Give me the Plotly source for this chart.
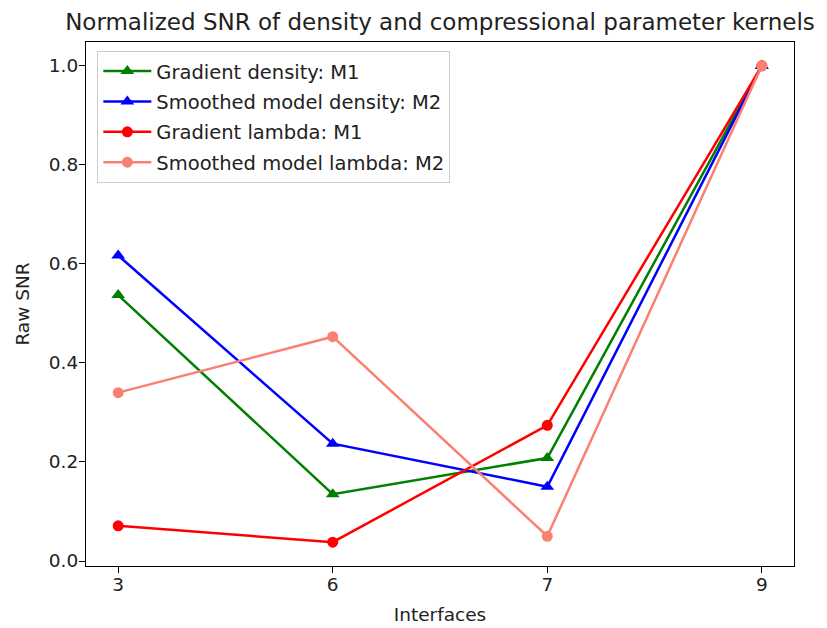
import plotly.graph_objects as go

# interface counts (categorical x positions)
interfaces = ["3", "6", "7", "9"]

# normalized SNR values
grad_density = [0.537, 0.135, 0.208, 1.0]
smooth_density = [0.617, 0.237, 0.150, 1.0]
grad_lambda = [0.071, 0.038, 0.274, 1.0]
smooth_lambda = [0.340, 0.453, 0.050, 1.0]

series = [
    ("Gradient density: M1", grad_density, "#008000", "triangle-up"),
    ("Smoothed model density: M2", smooth_density, "#0000ff", "triangle-up"),
    ("Gradient lambda: M1", grad_lambda, "#ff0000", "circle"),
    ("Smoothed model lambda: M2", smooth_lambda, "#fa8072", "circle"),
]

fig = go.Figure()
for i, (name, vals, col, sym) in enumerate(series):
    fig.add_trace(go.Scatter(
        x=interfaces, y=vals, name=name, mode="lines+markers",
        line=dict(color=col, width=2.5),
        marker=dict(color=col, symbol=sym, size=11 if sym == "circle" else 12),
        legendgroup="g%d" % i,
    ))

font = "DejaVu Sans, Liberation Sans, sans-serif"
axis_style = dict(
    showline=True, mirror=True, linecolor="black", linewidth=1.2,
    ticks="outside", ticklen=6, tickcolor="black", showgrid=False,
    zeroline=False, tickfont=dict(size=18.5, color="#222"), automargin=False,
)

fig.update_xaxes(type="category", categoryorder="array", categoryarray=interfaces,
                 range=[-0.15, 3.15], ticklabelstandoff=-4,
                 title=dict(text="Interfaces", font=dict(size=18.5), standoff=13),
                 **axis_style)
fig.update_yaxes(range=[-0.0101, 1.0481], tickvals=[0, 0.2, 0.4, 0.6, 0.8, 1.0],
                 tickformat=".1f", ticklabelstandoff=-3,
                 title=dict(text="Raw SNR", font=dict(size=18.5), standoff=14),
                 **axis_style)

# the page body adds an 8px margin, so the figure is sized to fit what remains
fig.update_layout(
    width=819, height=620,
    margin=dict(l=78, r=33, t=34, b=62, autoexpand=False),
    paper_bgcolor="white", plot_bgcolor="white",
    font=dict(family=font, color="#222", size=18.5),
    title=dict(text="Normalized SNR of density and compressional parameter kernels",
               x=0.5, xref="paper", xanchor="center",
               y=1 - 14 / 620, yref="container", yanchor="middle",
               font=dict(size=23.0, color="#222"), automargin=False),
    legend=dict(x=0.016, y=0.983, xanchor="left", yanchor="top",
                bgcolor="rgba(255,255,255,0.8)", bordercolor="#cccccc", borderwidth=1,
                font=dict(size=19.5), traceorder="grouped", tracegroupgap=2,
                itemwidth=48),
    showlegend=True,
)

fig.write_html("out.html")
